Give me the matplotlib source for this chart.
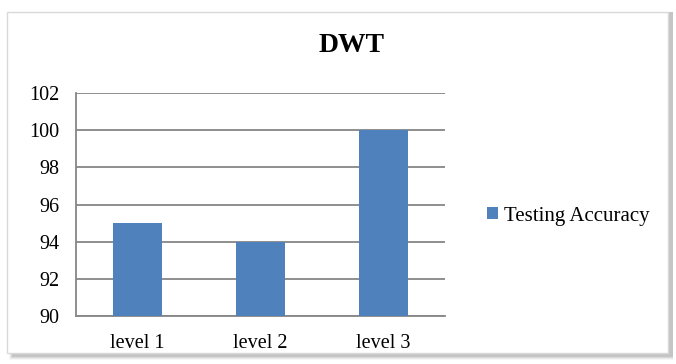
import matplotlib
matplotlib.use('Agg')
from matplotlib import pyplot as plt
from matplotlib.patches import Rectangle

categories = ['level 1', 'level 2', 'level 3']
accuracy = [95, 94, 100]
series_name = 'Testing Accuracy'
yticks = [90, 92, 94, 96, 98, 100, 102]

plt.rcParams['font.family'] = ['Liberation Serif', 'DejaVu Serif']

fig = plt.figure(figsize=(6.76, 3.64), dpi=100)
W, H = 676, 364

# chart frame with soft shadow like an office chart
for i, a in enumerate([0.03, 0.05, 0.07, 0.09]):
    fig.patches.append(Rectangle(((9 + i) / W, 1 - (360 - i) / H), (664 - i) / W, (348 - i) / H,
                                 transform=fig.transFigure, facecolor='black', alpha=a,
                                 edgecolor='none', zorder=0))
fig.patches.append(Rectangle((7 / W, 1 - 353 / H), 661 / W, 341 / H, transform=fig.transFigure,
                             facecolor='white', edgecolor='#d9d9d9', lw=1, zorder=1))

ax = fig.add_axes([76 / W, 1 - 316 / H, (445 - 76) / W, (316 - 93) / H])
ax.set_zorder(2)
ax.patch.set_alpha(0)
x = range(len(categories))
ax.bar(x, accuracy, width=0.4, color='#4f81bd', label=series_name, zorder=3)
ax.set_xlim(-0.5, 2.5)
ax.set_ylim(90, 102)
ax.set_yticks(yticks)
ax.set_xticks(list(x))
ax.set_xticklabels(categories)
ax.yaxis.grid(True, color='#868686', lw=1.3)
ax.set_axisbelow(True)
for s in ['top', 'right']:
    ax.spines[s].set_visible(False)
for s in ['left', 'bottom']:
    ax.spines[s].set_color('#868686')
    ax.spines[s].set_linewidth(1.3)
ax.tick_params(length=0, labelsize=14.5)
ax.tick_params(axis='x', pad=13)
ax.tick_params(axis='y', pad=12)

fig.text(352 / W, 1 - 46 / H, 'DWT', ha='center', va='center', fontsize=20, fontweight='bold')
fig.legend(loc='center left', bbox_to_anchor=(468 / W, 1 - 216 / H), frameon=False,
           fontsize=15, handlelength=0.55, handleheight=0.55, handletextpad=0.3)

fig.savefig('out.png', dpi=100)
